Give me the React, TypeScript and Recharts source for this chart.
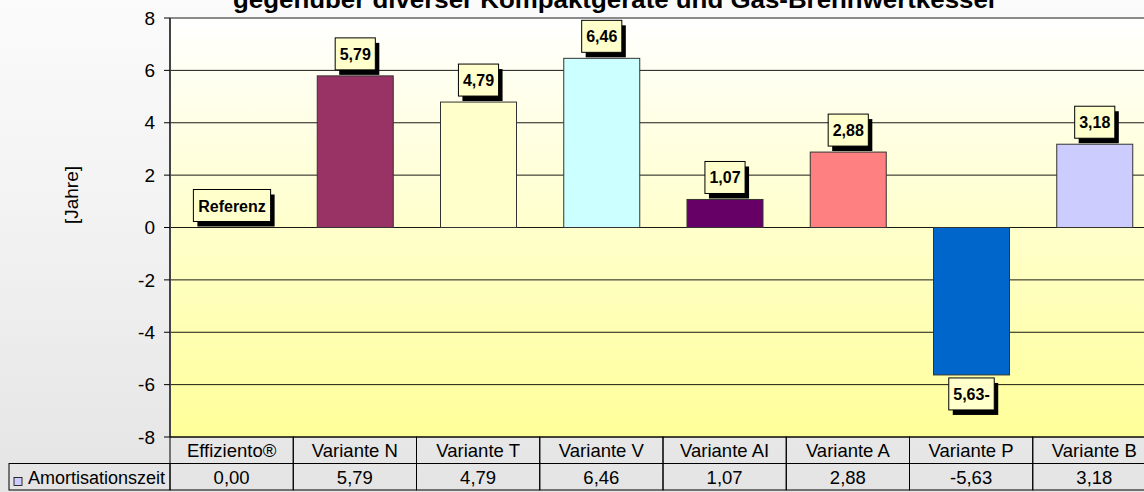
import React from 'react';
import { BarChart, Bar, XAxis, YAxis, CartesianGrid, Cell } from 'recharts';

const categories = ['Effiziento®', 'Variante N', 'Variante T', 'Variante V', 'Variante AI', 'Variante A', 'Variante P', 'Variante B'];
const values = [0, 5.79, 4.79, 6.46, 1.07, 2.88, -5.63, 3.18];
const barColors = ['#FFFFCC', '#993366', '#FFFFCC', '#CCFFFF', '#660066', '#FF8080', '#0066CC', '#CCCCFF'];
const yTicks = [-8, -6, -4, -2, 0, 2, 4, 6, 8];
const seriesName = 'Amortisationszeit';
const seriesColor = '#CCCCFF';
const axisTitle = '[Jahre]';
const title = 'gegenüber diverser Kompaktgeräte und Gas-Brennwertkessel';

const FONT = "Arial, 'Liberation Sans', sans-serif";
const CHART_W = 1160;
const CHART_H = 492;
const LEFT = 170;
const RIGHT_MARGIN = 4;
const BAND = (CHART_W - LEFT - RIGHT_MARGIN) / categories.length;
const ROW_H = 26.5;

const data = categories.map((name, i) => ({ name, value: values[i] }));

const fmt = (v: number) => v.toFixed(2).replace('.', ',');

// rough bold Arial widths, only used to size the label boxes
const boldWidth = (s: string, size: number) => {
  let w = 0;
  for (const ch of s) {
    if (/[0-9]/.test(ch)) w += 0.556;
    else if (ch === ',') w += 0.278;
    else if (ch === '-') w += 0.333;
    else if (ch === 'R') w += 0.722;
    else if (ch === 'f') w += 0.333;
    else if (ch === 'r') w += 0.389;
    else if (ch === 'z') w += 0.5;
    else w += 0.58;
  }
  return w * size;
};

// bar plus its boxed value label (the zero bar only gets the "Referenz" box)
const BarWithBox = (props: any) => {
  const { x, y, width, height, fill, payload } = props;
  const v = Number(payload?.value ?? props.value);
  const top = Math.min(y, y + height);
  const bottom = Math.max(y, y + height);
  const text = v === 0 ? 'Referenz' : v < 0 ? `${fmt(-v)}-` : fmt(v);
  const w = boldWidth(text, 16) + 9;
  const h = 32;
  const cx = x + width / 2;
  const by = v < 0 ? bottom + 3 : top - 6 - h;
  return (
    <g>
      {v !== 0 && (
        <rect x={x} y={top} width={width} height={bottom - top} fill={fill} stroke="#333" strokeWidth={1} />
      )}
      <rect x={cx - w / 2 + 4} y={by + 5} width={w} height={h} fill="#000" />
      <rect x={cx - w / 2} y={by} width={w} height={h} fill="#FFFFCC" stroke="#000" strokeWidth={1} />
      <text x={cx} y={by + h / 2 + 6} textAnchor="middle" fontFamily={FONT} fontWeight="bold" fontSize={16} fill="#000">
        {text}
      </text>
    </g>
  );
};

const TableTick = (props: any) => {
  const { x, y, payload, index } = props;
  const left = x - BAND / 2;
  return (
    <g>
      <rect x={left} y={y} width={BAND} height={ROW_H} fill="none" stroke="#000" />
      <text x={x} y={y + 20} textAnchor="middle" fontFamily={FONT} fontSize={18.5} fill="#000">
        {payload.value}
      </text>
      <rect x={left} y={y + ROW_H} width={BAND} height={ROW_H} fill="none" stroke="#000" />
      <text x={x} y={y + ROW_H + 20} textAnchor="middle" fontFamily={FONT} fontSize={18.5} fill="#000">
        {fmt(values[index])}
      </text>
      {index === 0 && (
        <g>
          <rect x={9} y={y + ROW_H} width={left - 9} height={ROW_H} fill="none" stroke="#000" />
          <rect x={14} y={y + ROW_H + 14} width={8} height={8} fill={seriesColor} stroke="#000" strokeWidth={0.8} />
          <text x={28} y={y + ROW_H + 20} fontFamily={FONT} fontSize={18} fill="#000">
            {seriesName}
          </text>
        </g>
      )}
    </g>
  );
};

const AxisTitle = () => (
  <text x={78} y={195} transform="rotate(-90 78 195)" textAnchor="middle" fontFamily={FONT} fontSize={19} fill="#000">
    {axisTitle}
  </text>
);

export default function App() {
  return (
    <div
      style={{
        position: 'absolute',
        top: 0,
        left: 0,
        width: 1144,
        height: 492,
        overflow: 'hidden',
        background: 'linear-gradient(to bottom, #fbfbfb 0%, #f1f1f1 50%, #e4e4e4 100%)',
      }}
    >
      <BarChart
        width={CHART_W}
        height={CHART_H}
        data={data}
        margin={{ top: 18, right: RIGHT_MARGIN, left: 0, bottom: 0 }}
        barSize={76}
      >
        <defs>
          <linearGradient id="plotBg" x1="0" y1="0" x2="0" y2="1">
            <stop offset="0%" stopColor="#FFFFFF" />
            <stop offset="100%" stopColor="#FFFF99" />
          </linearGradient>
        </defs>
        <CartesianGrid vertical={false} stroke="#000" strokeOpacity={0.9} fill="url(#plotBg)" />
        <XAxis
          dataKey="name"
          height={55}
          axisLine={false}
          tickLine={false}
          tickSize={0}
          tickMargin={0}
          interval={0}
          tick={<TableTick />}
        />
        <YAxis
          width={LEFT}
          domain={[-8, 8]}
          ticks={yTicks}
          allowDataOverflow
          axisLine={{ stroke: '#444', strokeWidth: 2 }}
          tickLine={{ stroke: '#000' }}
          tickSize={6}
          tickMargin={9}
          tick={{ fontSize: 19, fill: '#000', fontFamily: FONT }}
          label={<AxisTitle />}
        />
        <Bar dataKey="value" name={seriesName} isAnimationActive={false} shape={<BarWithBox />}>
          {data.map((d, i) => (
            <Cell key={d.name} fill={barColors[i]} />
          ))}
        </Bar>
      </BarChart>
      <svg width={1144} height={30} style={{ position: 'absolute', top: 0, left: 0, pointerEvents: 'none' }}>
        <text x={614} y={8} textAnchor="middle" fontFamily={FONT} fontWeight="bold" fontSize={24} fill="#000" textLength={762} lengthAdjust="spacingAndGlyphs">
          {title}
        </text>
      </svg>
    </div>
  );
}
